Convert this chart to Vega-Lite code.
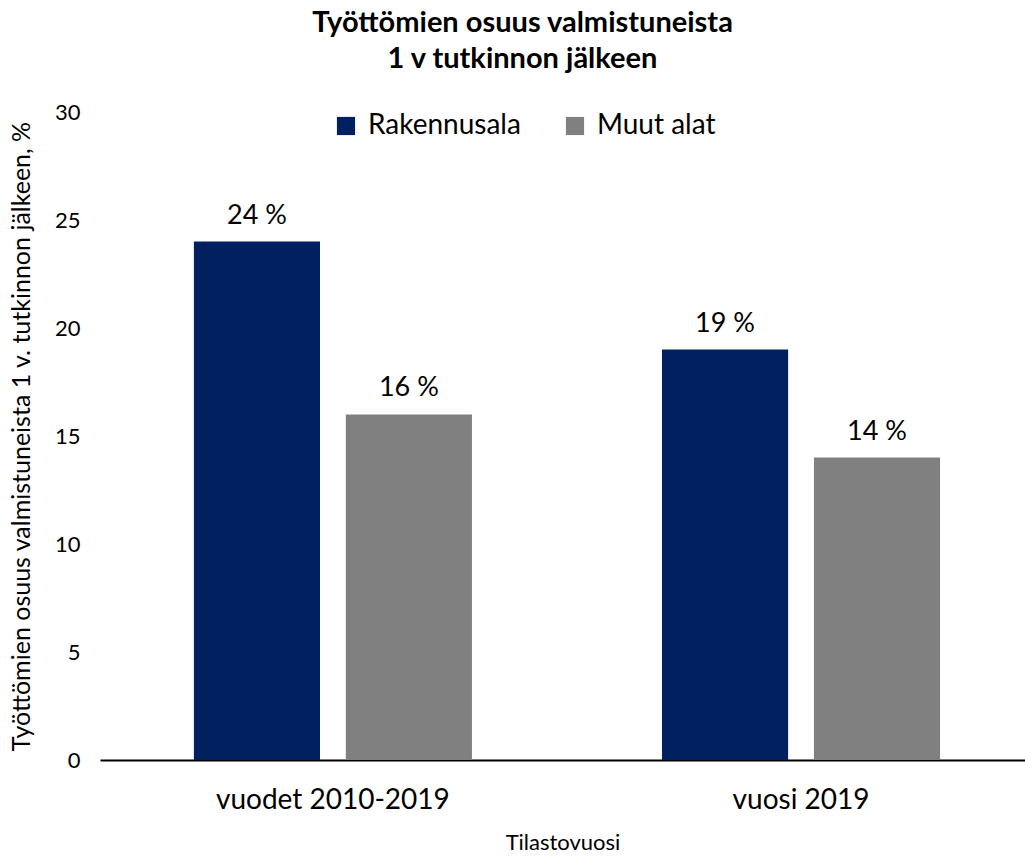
{
  "$schema": "https://vega.github.io/schema/vega-lite/v6.json",
  "autosize": {"type": "none"},
  "width": 925,
  "height": 648,
  "padding": {"left": 100, "top": 112, "right": 0, "bottom": 96},
  "background": "white",
  "config": {
    "font": "Lato",
    "view": {"stroke": null}
  },
  "title": {
    "text": ["Työttömien osuus valmistuneista", "1 v tutkinnon jälkeen"],
    "font": "Lato",
    "fontSize": 29,
    "fontWeight": "bold",
    "color": "#000000",
    "anchor": "middle",
    "dx": -40,
    "offset": 27,
    "lineHeight": 36
  },
  "data": {
    "values": [
      {"period": "vuodet 2010-2019", "group": "Rakennusala", "value": 24, "label": "24 %"},
      {"period": "vuodet 2010-2019", "group": "Muut alat", "value": 16, "label": "16 %"},
      {"period": "vuosi 2019", "group": "Rakennusala", "value": 19, "label": "19 %"},
      {"period": "vuosi 2019", "group": "Muut alat", "value": 14, "label": "14 %"}
    ]
  },
  "encoding": {
    "x": {
      "field": "period",
      "type": "nominal",
      "sort": ["vuodet 2010-2019", "vuosi 2019"],
      "scale": {"paddingInner": 0.406, "paddingOuter": 0.191, "align": 0.525},
      "axis": {
        "title": "Tilastovuosi",
        "titleFont": "Lato",
        "titleFontSize": 22,
        "titleFontWeight": "normal",
        "titleColor": "#000000",
        "titlePadding": 18,
        "labelFont": "Lato",
        "labelFontSize": 28,
        "labelColor": "#000000",
        "labelAngle": 0,
        "labelPadding": 26,
        "labelLimit": 0,
        "ticks": false,
        "domainColor": "#000000",
        "domainWidth": 2
      }
    },
    "xOffset": {
      "field": "group",
      "type": "nominal",
      "sort": ["Rakennusala", "Muut alat"],
      "scale": {"paddingInner": 0.17, "paddingOuter": 0}
    },
    "y": {
      "field": "value",
      "type": "quantitative",
      "scale": {"domain": [0, 30]},
      "axis": {
        "title": "Työttömien osuus valmistuneista 1 v. tutkinnon jälkeen, %",
        "titleFont": "Lato",
        "titleFontSize": 25,
        "titleFontWeight": "normal",
        "titleColor": "#000000",
        "titlePadding": 20,
        "values": [0, 5, 10, 15, 20, 25, 30],
        "labelFont": "Lato",
        "labelFontSize": 22,
        "labelColor": "#000000",
        "labelPadding": 20,
        "ticks": false,
        "domain": false,
        "grid": false
      }
    }
  },
  "layer": [
    {
      "mark": {"type": "bar"},
      "encoding": {
        "color": {
          "field": "group",
          "type": "nominal",
          "sort": ["Rakennusala", "Muut alat"],
          "scale": {"domain": ["Rakennusala", "Muut alat"], "range": ["#002060", "#808080"]},
          "legend": {
            "title": null,
            "orient": "none",
            "direction": "horizontal",
            "legendX": 232,
            "legendY": 0,
            "symbolType": "square",
            "symbolSize": 330,
            "symbolStrokeWidth": 0,
            "labelFont": "Lato",
            "labelFontSize": 28,
            "labelColor": "#000000",
            "labelLimit": 0,
            "columnPadding": 40,
            "labelOffset": 8
          }
        }
      }
    },
    {
      "mark": {"type": "text", "baseline": "bottom", "dy": -12, "fontSize": 27, "font": "Lato", "color": "#000000"},
      "encoding": {
        "text": {"field": "label"}
      }
    }
  ]
}
